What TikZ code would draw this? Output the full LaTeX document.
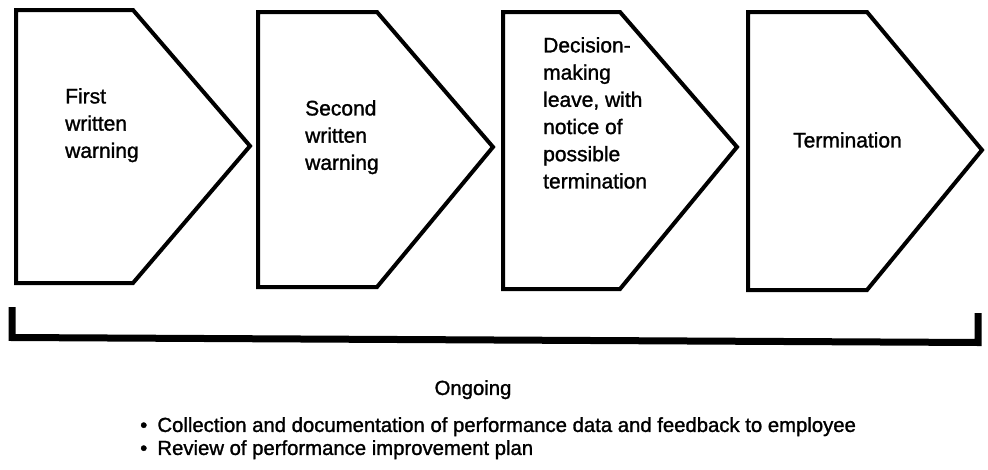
\documentclass[tikz,border=0pt]{standalone}
\usepackage{fontspec}
\setmainfont{Liberation Sans}[FakeBold=1.3]
\begin{document}
\begin{tikzpicture}[x=1pt,y=-1pt,
  stage/.style={draw=black, line width=4pt, line join=miter, fill=white},
  stagetext/.style={anchor=north west, inner sep=0pt, align=left, font=\fontsize{21}{27.2}\selectfont},
  bracketline/.style={draw=black, line width=7pt, line join=miter},
  note/.style={inner sep=0pt, align=left, font=\fontsize{20.3}{23}\selectfont}]
\useasboundingbox[fill=white] (0,0) rectangle (988,469);

% stage shapes
\draw[stage] (16,10) -- (133,10) -- (250,146) -- (133,283) -- (16,283) -- cycle;
\draw[stage] (258,12) -- (377,12) -- (493,147) -- (377,287) -- (258,287) -- cycle;
\draw[stage] (503,12) -- (620,12) -- (737,147) -- (620,289) -- (503,289) -- cycle;
\draw[stage] (748,12) -- (867,12) -- (982,150) -- (867,290) -- (748,290) -- cycle;

% stage texts
\node[stagetext] (t1) at (65,88) {First\\written\\warning};
\node[stagetext] (t2) at (305,100) {Second\\written\\warning};
\node[stagetext] (t3) at (543,37) {Decision-\\making\\leave, with\\notice of\\possible\\termination};
\node[stagetext] (t4) at (793,132) {Termination};

% bracket
\draw[bracketline] (12,307) -- (12,337.5) -- (978,342.5) -- (978,313);

% notes
\node[note, anchor=north] (ongoing) at (473,380) {Ongoing};
\node[note, anchor=north west] (items) at (140,417)
  {•\hspace{0.5em}Collection and documentation of performance data and feedback to employee\\
   •\hspace{0.5em}Review of performance improvement plan};
\end{tikzpicture}
\end{document}
